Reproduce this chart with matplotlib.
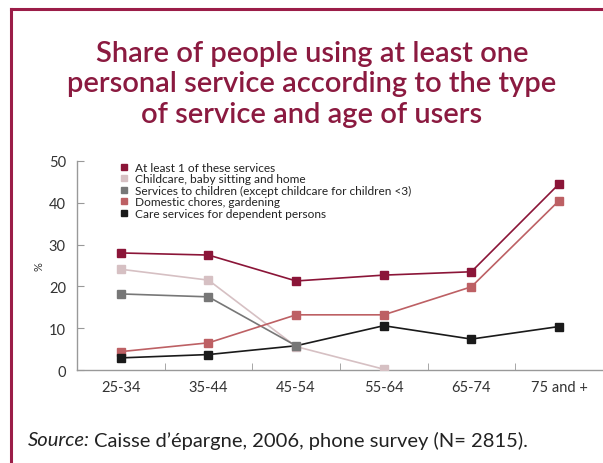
import matplotlib
matplotlib.use("Agg")
import matplotlib.pyplot as plt
from matplotlib.lines import Line2D

plt.rcParams['font.family'] = ['Lato', 'DejaVu Sans']

# Age groups and shares (%)
ages = ["25-34", "35-44", "45-54", "55-64", "65-74", "75 and +"]
at_least_one = [28.0, 27.5, 21.3, 22.7, 23.5, 44.5]
childcare = [24.1, 21.5, 5.6, 0.2]
children_services = [18.2, 17.5, 5.8]
domestic = [4.4, 6.5, 13.2, 13.2, 19.9, 40.5]
care_dependent = [2.9, 3.7, 5.8, 10.6, 7.4, 10.4]

labels = ["At least 1 of these services",
          "Childcare, baby sitting and home",
          "Services to children (except childcare for children <3)",
          "Domestic chores, gardening",
          "Care services for dependent persons"]
colors = ["#8b1538", "#d6c0c3", "#777777", "#bd6064", "#1a1a1a"]

fig = plt.figure(figsize=(6.03, 4.64), dpi=100)

# frame lines (left and top)
frame = "#9b1d48"
fig.add_artist(Line2D([0.018, 0.018], [0.0, 0.978], color=frame, lw=2.2, transform=fig.transFigure))
fig.add_artist(Line2D([0.018, 1.0], [0.978, 0.978], color=frame, lw=2.2, transform=fig.transFigure))

fig.text(0.517, 0.818, "Share of people using at least one\npersonal service according to the type\nof service and age of users",
         ha="center", va="center", fontsize=21, color="#8b1a40", fontweight="semibold", linespacing=1.2)

ax = fig.add_axes([0.1277, 0.2004, 0.872, 0.4505])

series = [at_least_one, childcare, children_services, domestic, care_dependent]
for vals, c in zip(series, colors):
    x = list(range(len(vals)))
    ax.plot(x, vals, color=c, lw=1.2, zorder=2)
for vals, c, lab in zip(series, colors, labels):
    x = list(range(len(vals)))
    marks = [i for i in x if not (vals is care_dependent and i == 2)]
    ax.plot(x, vals, color=c, lw=0, marker="s", markersize=5.5, markevery=marks, zorder=3)

ax.set_xlim(-0.5, 5.5)
ax.set_ylim(0, 50)
ax.set_yticks(range(0, 51, 10))
ax.set_xticks(range(len(ages)))
ax.set_xticklabels(ages)
ax.set_xticks([i + 0.5 for i in range(5)], minor=True)
ax.tick_params(axis="x", which="major", length=0, labelsize=10.5, colors="#333333", pad=7)
ax.tick_params(axis="x", which="minor", direction="in", length=5, color="#999999")
ax.tick_params(axis="y", direction="in", length=5, color="#999999", labelsize=10.5, labelcolor="#333333", pad=8)
for s in ["top", "right"]:
    ax.spines[s].set_visible(False)
for s in ["left", "bottom"]:
    ax.spines[s].set_color("#999999")
    ax.spines[s].set_linewidth(1.0)
ax.set_ylabel("%", fontsize=8, color="#333333", labelpad=3)

handles = [Line2D([], [], color=c, marker="s", lw=0, markersize=5) for c in colors]
ax.legend(handles, labels, loc="upper left", bbox_to_anchor=(0.07, 1.025), frameon=False,
          fontsize=8.6, handlelength=0.7, handletextpad=0.6, labelspacing=0.04, borderpad=0,
          labelcolor="#222222")

src = fig.text(0.047, 0.05, "Source:", fontsize=14.5, style="italic", color="#222222", ha="left", va="center")
fig.canvas.draw()
bb = src.get_window_extent()
fig.text((bb.x1 + 4) / fig.bbox.width, 0.05, "Caisse d\u2019\u00e9pargne, 2006, phone survey (N= 2815).",
         fontsize=14.5, color="#222222", ha="left", va="center")

fig.savefig("out.png", dpi=100)
